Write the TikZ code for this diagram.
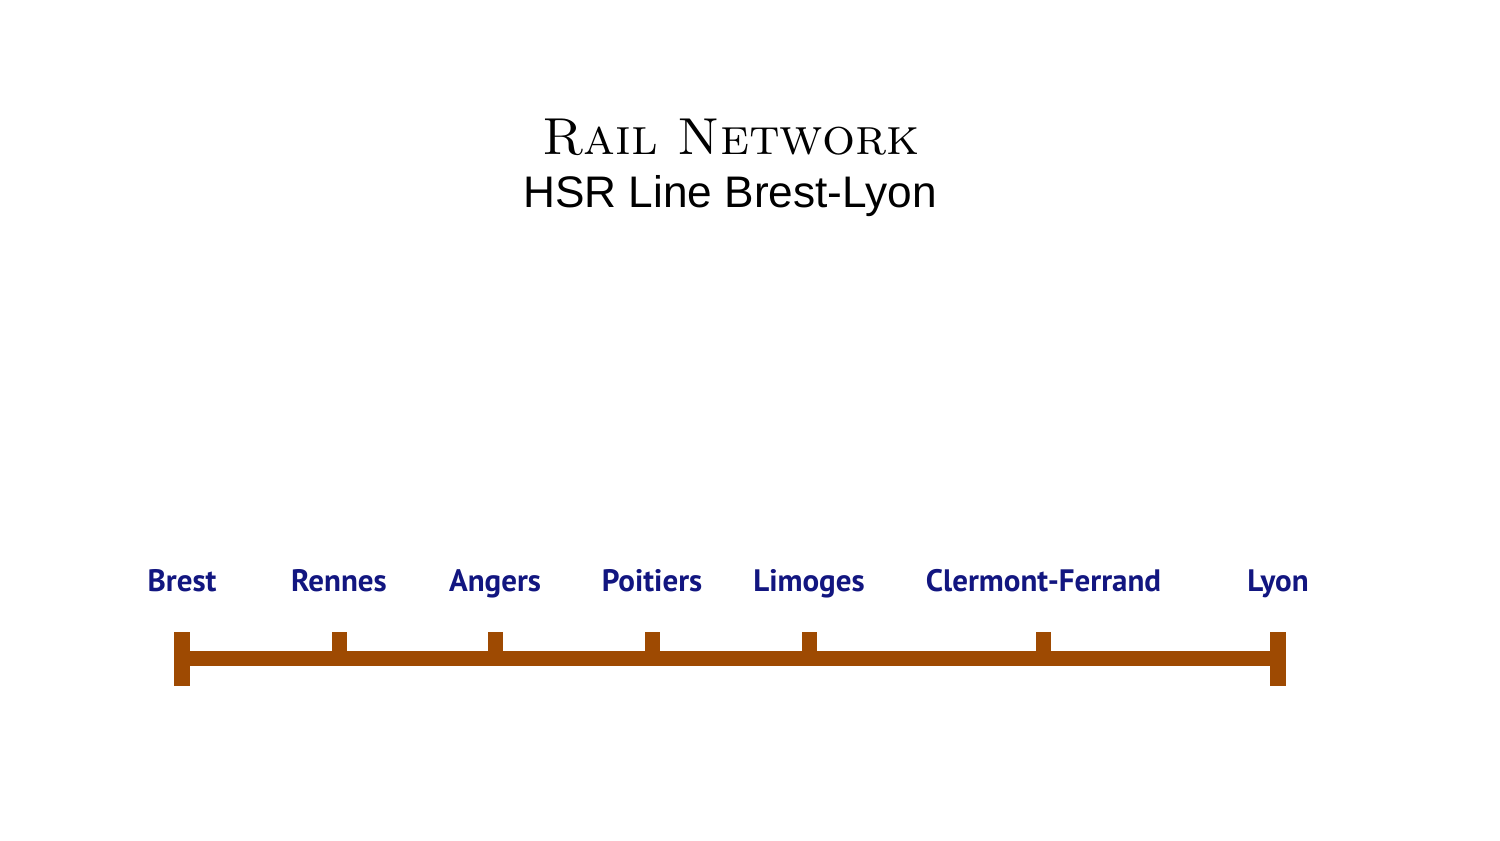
\documentclass[tikz,border=0pt]{standalone}
\usepackage{fontspec}
\newfontfamily\ptsans{PT Sans}
\newfontfamily\helv{Liberation Sans}
\definecolor{rail}{RGB}{158,74,2}
\definecolor{navy}{RGB}{18,22,128}
\begin{document}
\begin{tikzpicture}[x=1pt,y=-1pt,
  station/.style={font=\ptsans\bfseries\fontsize{31}{32}\selectfont, text=navy, anchor=base, inner sep=0pt},
  railfill/.style={fill=rail, draw=none}]
\useasboundingbox (0,0) rectangle (1500,841);
% titles
\node[anchor=base, inner sep=0pt, font=\fontsize{52}{54}\selectfont\scshape] (title) at (731,154) {Rail Network};
\node[anchor=base, inner sep=0pt, font=\helv\fontsize{44.2}{46}\selectfont] (subtitle) at (730,207) {HSR Line Brest-Lyon};
% station positions
\foreach \n/\x/\t in {brest/182/Brest, rennes/339/Rennes, angers/495/Angers, poitiers/652/Poitiers, limoges/809/Limoges, clermont/1043.5/Clermont-Ferrand, lyon/1278/Lyon}{
  \coordinate (\n) at (\x,658.5);
  \node[station] (\n-label) at (\x,591) {\t};
}
% main line
\fill[railfill] (brest) ++(0,-7.5) rectangle (1278,666);
% end bars
\fill[railfill] ([xshift=-8pt,yshift=26.5pt]brest) rectangle ([xshift=8pt,yshift=-27.5pt]brest);
\fill[railfill] ([xshift=-8pt,yshift=26.5pt]lyon) rectangle ([xshift=8pt,yshift=-27.5pt]lyon);
% intermediate ticks
\foreach \n in {rennes,angers,poitiers,limoges,clermont}{
  \fill[railfill] ([xshift=-7.5pt,yshift=26.5pt]\n) rectangle ([xshift=7.5pt,yshift=0pt]\n);
}
\end{tikzpicture}
\end{document}
